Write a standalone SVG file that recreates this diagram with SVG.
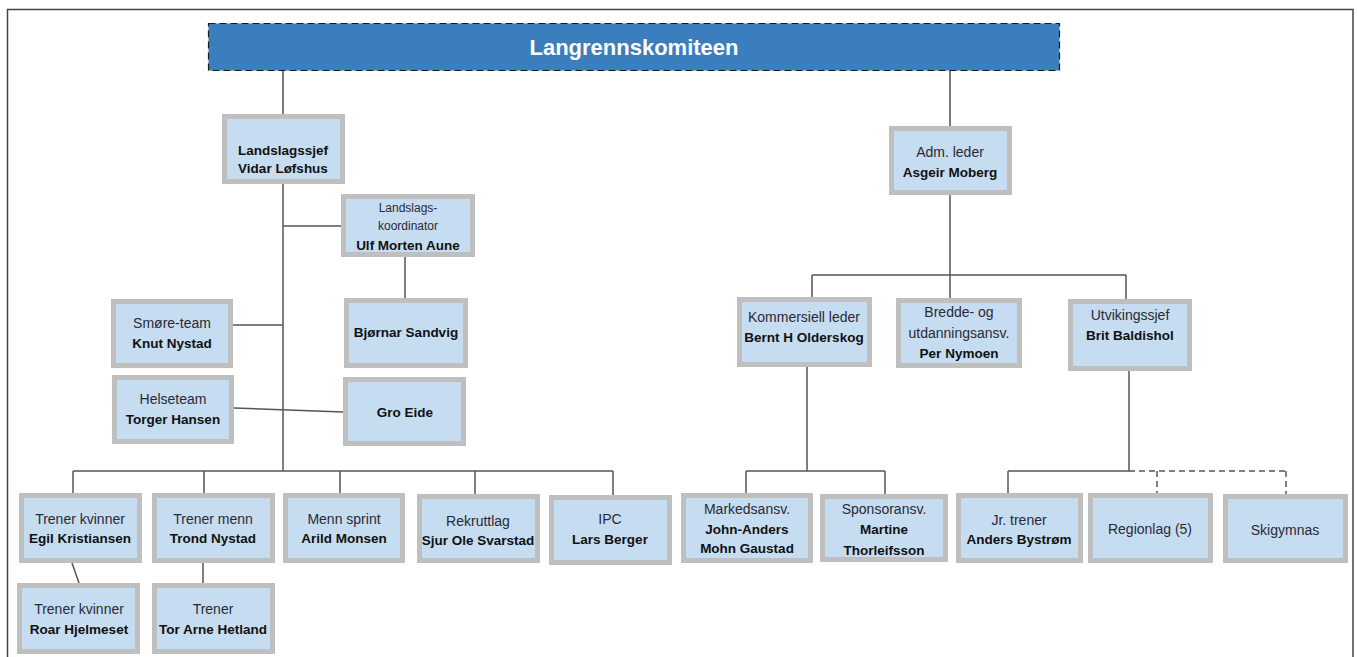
<svg xmlns="http://www.w3.org/2000/svg" width="1357" height="657" viewBox="0 0 1357 657">
<style>
.box{fill:#C6DCF0;stroke:#BFBFBF;stroke-width:5}
.t{font-family:"Liberation Sans",Arial,sans-serif;font-size:14px;fill:#2a2a35;text-anchor:middle}
.b{font-weight:bold;fill:#111;font-size:13.5px}
.s{font-size:12px}
.c{stroke:#555;stroke-width:1.5;fill:none}
.cg{stroke:#7a7a7a;stroke-width:2;fill:none}
.d{stroke:#555;stroke-width:1.5;fill:none;stroke-dasharray:6 4}
</style>
<rect x="0" y="0" width="1357" height="657" fill="#fff"/>
<rect x="7.5" y="9.5" width="1345.5" height="660" fill="none" stroke="#444" stroke-width="1.5"/>
<g id="connectors">
<path class="cg" d="M283 71V114"/>
<path class="c" d="M283 184V471M283 226H341M405 257V298M233 325H283M234 408L343 412"/>
<path class="c" d="M73 471H613M73 471V493M204 471V493M340 471V493M475 471V494M613 471V495"/>
<path class="c" d="M72 563L79 583M203 563V583"/>
<path class="cg" d="M950 71V126"/>
<path class="c" d="M950 195V298M812 275H1126M812 275V297M1126 275V299"/>
<path class="c" d="M807 367V471M746 471H885M746 471V493M885 471V494"/>
<path class="c" d="M1129 371V471M1008 471H1129M1008 471V493"/>
<path class="d" d="M1129 471H1286M1157 471V493M1286 471V494"/>
</g>
<g id="header">
<rect x="208.5" y="23.5" width="851" height="47" fill="#3A7EBE" stroke="#1a1a1a" stroke-width="1.2" stroke-dasharray="7 4"/>
<text x="634" y="55" font-family="Liberation Sans,Arial,sans-serif" font-size="22" font-weight="bold" fill="#fff" text-anchor="middle">Langrennskomiteen</text>
</g>
<g id="landslagssjef"><rect class="box" x="224.5" y="116.5" width="118" height="65"/><text class="t b" x="283" y="155">Landslagssjef</text><text class="t b" x="283" y="173">Vidar Løfshus</text></g>
<g id="koordinator"><rect class="box" x="343.5" y="196.5" width="129" height="58"/><text class="t s" x="408" y="212">Landslags-</text><text class="t s" x="408" y="230">koordinator</text><text class="t b" x="408" y="250">Ulf Morten Aune</text></g>
<g id="smore"><rect class="box" x="113.5" y="301.5" width="117" height="64"/><text class="t" x="172" y="328">Smøre-team</text><text class="t b" x="172" y="348">Knut Nystad</text></g>
<g id="bjornar"><rect class="box" x="346.5" y="300.5" width="119" height="65"/><text class="t b" x="406" y="337" font-size="12.5">Bjørnar Sandvig</text></g>
<g id="helse"><rect class="box" x="114.5" y="377.5" width="117" height="64"/><text class="t" x="173" y="404">Helseteam</text><text class="t b" x="173" y="424">Torger Hansen</text></g>
<g id="gro"><rect class="box" x="345.5" y="379.5" width="118" height="64"/><text class="t b" x="405" y="417" font-size="12.5">Gro Eide</text></g>
<g id="egil"><rect class="box" x="21.5" y="495.5" width="118" height="65"/><text class="t" x="80" y="524">Trener kvinner</text><text class="t b" x="80" y="543">Egil Kristiansen</text></g>
<g id="trond"><rect class="box" x="154.5" y="495.5" width="118" height="65"/><text class="t" x="213" y="524">Trener menn</text><text class="t b" x="213" y="543">Trond Nystad</text></g>
<g id="arild"><rect class="box" x="285.5" y="495.5" width="117" height="65"/><text class="t" x="344" y="524">Menn sprint</text><text class="t b" x="344" y="543">Arild Monsen</text></g>
<g id="rekrutt"><rect class="box" x="419.5" y="496.5" width="118" height="64"/><text class="t" x="478" y="526">Rekruttlag</text><text class="t b" x="478" y="545">Sjur Ole Svarstad</text></g>
<g id="ipc"><rect class="box" x="551.5" y="497.5" width="118" height="65"/><text class="t" x="610" y="524">IPC</text><text class="t b" x="610" y="544">Lars Berger</text></g>
<g id="roar"><rect class="box" x="19.5" y="585.5" width="118" height="66"/><text class="t" x="79" y="614">Trener kvinner</text><text class="t b" x="79" y="634">Roar Hjelmeset</text></g>
<g id="torarne"><rect class="box" x="154.5" y="585.5" width="118" height="66"/><text class="t" x="213" y="614">Trener</text><text class="t b" x="213" y="634">Tor Arne Hetland</text></g>
<g id="adm"><rect class="box" x="891.5" y="128.5" width="118" height="64"/><text class="t" x="950" y="157">Adm. leder</text><text class="t b" x="950" y="177">Asgeir Moberg</text></g>
<g id="kommersiell"><rect class="box" x="739.5" y="299.5" width="130" height="65"/><text class="t" x="804" y="322">Kommersiell leder</text><text class="t b" x="804" y="342">Bernt H Olderskog</text></g>
<g id="bredde"><rect class="box" x="898.5" y="300.5" width="121" height="65"/><text class="t" x="959" y="317">Bredde- og</text><text class="t" x="959" y="338">utdanningsansv.</text><text class="t b" x="959" y="358">Per Nymoen</text></g>
<g id="utvikling"><rect class="box" x="1070.5" y="301.5" width="119" height="67"/><text class="t" x="1130" y="320">Utvikingssjef</text><text class="t b" x="1130" y="340">Brit Baldishol</text></g>
<g id="markeds"><rect class="box" x="683.5" y="495.5" width="127" height="65"/><text class="t" x="747" y="514">Markedsansv.</text><text class="t b" x="747" y="534">John-Anders</text><text class="t b" x="747" y="553">Mohn Gaustad</text></g>
<g id="sponsor"><rect class="box" x="822.5" y="496.5" width="123" height="63"/><text class="t" x="884" y="514">Sponsoransv.</text><text class="t b" x="884" y="534">Martine</text><text class="t b" x="884" y="555">Thorleifsson</text></g>
<g id="jrtrener"><rect class="box" x="958.5" y="495.5" width="122" height="65"/><text class="t" x="1019" y="525">Jr. trener</text><text class="t b" x="1019" y="544">Anders Bystrøm</text></g>
<g id="regionlag"><rect class="box" x="1090.5" y="495.5" width="120" height="65"/><text class="t" x="1150" y="534">Regionlag (5)</text></g>
<g id="skigymnas"><rect class="box" x="1225.5" y="496.5" width="120" height="64"/><text class="t" x="1285" y="535">Skigymnas</text></g>
</svg>
